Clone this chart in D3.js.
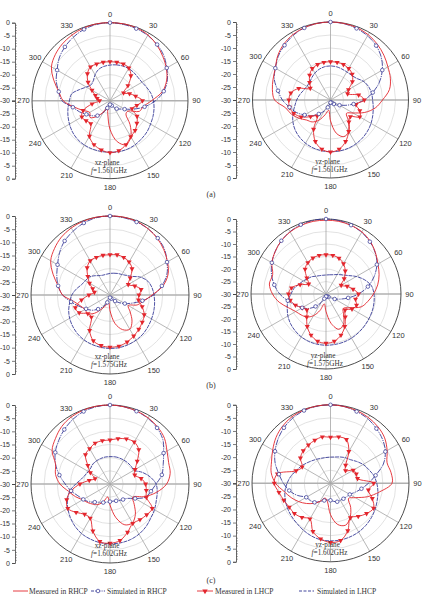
<!DOCTYPE html>
<html><head><meta charset="utf-8">
<script src="https://cdn.jsdelivr.net/npm/d3@7"></script>
<style>body{margin:0;background:#fff}svg{display:block}</style>
</head><body>
<svg id="c" width="423" height="604"></svg>
<script>
// angles in degrees (0 at top, clockwise), one value every 10 degrees
const angles = d3.range(0, 360, 10);
const radialTicks = [0, -5, -10, -15, -20, -25, -30];
const angleLabels = [0, 30, 60, 90, 120, 150, 180, 210, 240, 270, 300, 330];
const seriesNames = ["Measured in RHCP", "Simulated in RHCP", "Measured in LHCP", "Simulated in LHCP"];
const planes = ["xz-plane", "yz-plane", "xz-plane", "yz-plane", "xz-plane", "yz-plane"];
const freqs = ["1.561GHz", "1.561GHz", "1.575GHz", "1.575GHz", "1.602GHz", "1.602GHz"];
const rowLabels = ["(a)", "(b)", "(c)"];

// Panel (a) xz-plane 1.561 GHz
const a1MeasR = [0,0,-0.2,-0.8,-2,-3.5,-5,-6.8,-9.5,-14,-17,-18,-22,-22,-18,-14,-12,-14,-19,-25,-27,-25,-22,-20,-21,-19,-16,-12,-10,-7,-4,-2.5,-1.5,-0.8,-0.3,0];
const a1SimR  = [0,-0.2,-0.5,-1,-1.8,-3,-4.8,-6.5,-9,-12.5,-16.5,-20.5,-23.5,-25,-26,-27,-28,-28.5,-28.5,-28,-27,-24.5,-22.5,-21,-19.5,-17.5,-15.5,-11.5,-10,-8,-6.5,-4.5,-3,-1.8,-0.8,-0.2];
const a1MeasL = [-15,-15,-15,-15.5,-17.5,-21,-24,-22,-20,-17.5,-19.5,-21,-18,-16.5,-15,-14,-12,-10.5,-10,-10.8,-12,-14.2,-18.5,-18,-17.5,-19,-23,-26,-25,-24,-22,-19,-16.5,-15,-15,-15];
const a1SimL  = [-16.3,-16,-15.8,-15.7,-15.8,-16,-15.8,-15,-14,-13.3,-12.8,-12.4,-12,-11.4,-11,-10.5,-10.2,-10.1,-10.2,-10.2,-10.2,-10.3,-10.6,-11.2,-12,-12.8,-13.6,-14.4,-15,-17.5,-19.5,-20.5,-20,-18.5,-17.2,-16.6];
// Panel (a) yz-plane 1.561 GHz
const a2MeasR = [0,-0.1,-0.4,-1,-2,-3.2,-4.5,-5.5,-7,-10,-12.5,-16,-20,-22,-19,-16,-15,-17,-22,-26,-24,-21,-19,-18,-16,-14,-12.5,-8.5,-7.3,-6.5,-5.5,-3.5,-2,-1,-0.4,-0.1];
const a2SimR  = [0,-0.2,-0.7,-1.5,-2.7,-4.5,-7,-10,-13.5,-17,-21,-24,-26,-27,-28,-28.5,-29,-29,-29,-28.5,-27,-25,-23,-20.5,-18.5,-16,-14,-11.5,-9.5,-7,-5.5,-3.8,-2.5,-1.3,-0.5,-0.1];
const a2MeasL = [-15.3,-15.3,-15.5,-16,-17,-19,-22,-23,-19,-17,-20,-18,-17,-20,-19,-16,-13,-10.8,-10,-10.8,-13,-17,-22,-20,-17,-15,-14,-14,-14.5,-17,-21,-19.5,-17.5,-16,-15.5,-15.3];
const a2SimL  = [-16.9,-17,-17.3,-17.5,-17.5,-17,-15.5,-14.5,-14,-13.8,-13.3,-12.7,-12,-11.4,-10.9,-10.5,-10.2,-10.1,-10.1,-10.2,-10.4,-10.8,-11.4,-12.2,-13.3,-14.6,-16,-17,-18,-19,-19.5,-19.5,-18.8,-18,-17.4,-17];
// Panel (b) xz-plane 1.575 GHz
const b1MeasR = [0,0,-0.3,-1,-2,-3.3,-4.8,-6.5,-9.5,-14,-17,-19,-22,-20,-17,-15,-16,-19,-24,-27,-26,-24,-21,-19,-19,-18,-16,-12,-10,-7,-4,-2.5,-1.3,-0.6,-0.2,0];
const b1SimR  = [0,-0.2,-0.5,-1,-1.8,-3,-5,-7,-10,-13.5,-17.5,-21,-23.5,-25.5,-27,-28,-28.5,-29,-29,-28.5,-27,-25,-23,-21,-19.5,-17.5,-15,-12,-10,-8.5,-7,-5,-3.2,-2,-0.9,-0.2];
const b1MeasL = [-14.7,-14.5,-14.8,-15.5,-17,-20,-22,-20,-18,-19,-19,-17,-15,-14,-13,-12,-11,-10.3,-10.2,-10.5,-11.5,-14.5,-19,-19,-16.5,-16,-19,-22,-24,-23,-21,-19,-16.5,-15,-14.8,-14.7];
const b1SimL  = [-21.8,-21.6,-21.3,-21,-20.3,-19,-16.5,-14.7,-13.8,-13.3,-12.8,-12.3,-11.8,-11.2,-10.6,-10.2,-9.9,-9.7,-9.7,-9.8,-10,-10.3,-10.8,-11.5,-12.3,-13.3,-14.5,-15.5,-17,-18.5,-19.2,-19.5,-20.5,-21.5,-22,-22];
// Panel (b) yz-plane 1.575 GHz
const b2MeasR = [-0.5,-0.5,-0.8,-1.3,-2.5,-4.2,-6,-7.4,-9,-11,-13,-15,-19,-21,-19,-16,-15,-18,-23,-26,-23,-20,-18,-17,-16,-14,-11,-8.6,-7,-7.3,-5,-3.5,-2.2,-1.3,-0.8,-0.5];
const b2SimR  = [0,-0.2,-0.7,-1.5,-2.7,-4.3,-6.5,-9.5,-13,-17,-21,-24,-26,-27.5,-28.5,-29,-29,-29,-29,-29,-28,-26,-23.5,-21,-19,-17,-14.5,-11.5,-9,-6.8,-5,-3.5,-2.2,-1.2,-0.5,-0.1];
const b2MeasL = [-14.3,-14.3,-14.8,-16,-18,-20.5,-23,-21,-19,-17,-18,-17,-18,-20,-18,-15,-12.5,-10.8,-10.3,-10.8,-12.5,-15,-18,-20,-19,-17,-15.5,-15,-16,-19,-22,-20,-17,-15.5,-14.7,-14.3];
const b2SimL  = [-22.4,-22.2,-21.8,-21,-20,-18.5,-16,-13.5,-11.5,-10.8,-10.5,-10.3,-10.2,-10,-9.8,-9.6,-9.5,-9.5,-9.5,-9.6,-9.8,-10.2,-10.8,-11.5,-12.4,-13.5,-14.5,-16,-17,-18.5,-19.5,-20.5,-21,-21.8,-22.2,-22.4];
// Panel (c) xz-plane 1.602 GHz
const c1MeasR = [0,-0.2,-0.5,-1,-1.8,-3,-5,-6.3,-6.8,-8.5,-12,-16,-20,-18,-15,-13,-13.5,-17,-22,-25,-23,-21,-20,-19,-18,-16,-14,-11,-9,-8,-4.6,-3,-1.5,-0.6,-0.2,0];
const c1SimR  = [0,-0.2,-0.6,-1.2,-2.2,-3.8,-6.5,-8.5,-10,-12.5,-14.2,-15.5,-19,-21.5,-22.3,-22.8,-23.2,-23.4,-23.3,-23,-22.5,-22,-21,-19.5,-18.3,-17,-15,-13,-10.5,-8,-6,-4.5,-3,-1.7,-0.7,-0.2];
const c1MeasL = [-13.3,-12.5,-11.8,-11.6,-13,-16.5,-19,-20,-18,-16.5,-16,-15.3,-11.5,-11.8,-12.3,-12.7,-10.5,-8.2,-7.5,-7.8,-11,-15,-15,-13.2,-11.5,-12.5,-15,-18.6,-22,-24,-21.4,-19,-15.5,-14.5,-13.5,-13.3];
const c1SimL  = [-19.6,-19.5,-19.5,-19.5,-19.5,-19.5,-19.5,-17,-14.5,-12.5,-11.8,-11.3,-10.5,-9.8,-8.8,-8,-7.5,-7.3,-7.3,-7.4,-7.8,-8.3,-9.2,-10.3,-11.5,-12.8,-14.5,-17,-19,-20,-20.5,-20.5,-20,-19.8,-19.7,-19.6];
// Panel (c) yz-plane 1.602 GHz
const c2MeasR = [0,-0.2,-0.5,-1,-1.8,-3,-5,-7,-6.5,-6.5,-11,-15,-19,-21,-18,-15,-13,-14,-18,-23,-24,-22,-20,-18,-16,-14,-12,-9,-7,-6,-4.5,-2.8,-1.5,-0.6,-0.2,0];
const c2SimR  = [0,-0.2,-0.8,-1.5,-2.7,-4,-5.8,-8.5,-12.5,-15.5,-18,-20,-21.5,-22,-22.3,-22.5,-22.5,-23,-23.5,-23.5,-23,-22,-20.5,-19.8,-19.3,-16.5,-14,-12,-10,-7.5,-5.5,-3.8,-2.3,-1.2,-0.4,-0.1];
const c2MeasL = [-12.4,-12,-12.2,-16,-21,-22.5,-20,-19.5,-19.5,-13.5,-15.3,-13,-11,-12,-13.5,-14.8,-10.7,-7.8,-7.4,-8.4,-10.4,-14.3,-13,-12,-11.8,-11,-10,-8.5,-9.4,-16,-17.5,-15,-13.8,-13.1,-12.5,-12];
const c2SimL  = [-20,-19.8,-19.3,-18.7,-18.2,-17,-15.6,-14.5,-13.2,-12.3,-11.6,-11,-10.3,-9.6,-9,-8.5,-8.2,-8,-8,-8.1,-8.6,-9.3,-10,-10.5,-11,-11.6,-12.3,-13.4,-14.6,-16,-17,-18,-18.8,-19.4,-19.8,-20];

const panelData = [
  [a1MeasR, a1SimR, a1MeasL, a1SimL],
  [a2MeasR, a2SimR, a2MeasL, a2SimL],
  [b1MeasR, b1SimR, b1MeasL, b1SimL],
  [b2MeasR, b2SimR, b2MeasL, b2SimL],
  [c1MeasR, c1SimR, c1MeasL, c1SimL],
  [c2MeasR, c2SimR, c2MeasL, c2SimL]
];

// layout
const layout = [
  {cx:110,   cy:100.7, R:78,   ax:15},
  {cx:330.5, cy:100,   R:78,   ax:236},
  {cx:110,   cy:295,   R:79,   ax:15},
  {cx:326,   cy:294,   R:75,   ax:236},
  {cx:110,   cy:484,   R:79,   ax:15},
  {cx:330.5, cy:483.3, R:78.5, ax:236}
];
const RED = "#e3262d", BLUE = "#2e3192";
const sans = "'Liberation Sans', Arial, sans-serif";
const serif = "'Liberation Serif', 'Times New Roman', serif";

const svg = d3.select("#c");
const rad = d => d * Math.PI / 180;

layout.forEach((L, pi) => {
  const g = svg.append("g").attr("transform", `translate(${L.cx},${L.cy})`);
  const r = d3.scaleLinear().domain([-30, 0]).range([0, L.R]).clamp(true);

  // grid circles
  g.selectAll("circle.grid").data(radialTicks.filter(d => d > -30 && d < 0)).join("circle")
    .attr("r", d => r(d)).attr("fill", "none").attr("stroke", "#d6d6d6").attr("stroke-width", 0.7);
  // radial spokes
  g.selectAll("line.spoke").data(d3.range(0, 360, 30)).join("line")
    .attr("x1", 0).attr("y1", 0)
    .attr("x2", d => L.R * Math.sin(rad(d))).attr("y2", d => -L.R * Math.cos(rad(d)))
    .attr("stroke", d => (d === 90 || d === 270) ? "#b0b0b0" : "#a4a4a4")
    .attr("stroke-width", d => (d === 90 || d === 270) ? 1.6 : 0.8);
  // outer circle
  g.append("circle").attr("r", L.R).attr("fill", "none").attr("stroke", "#3a3a3a").attr("stroke-width", 0.9);

  // angle labels
  g.selectAll("text.ang").data(angleLabels).join("text")
    .attr("x", d => (L.R + 8.5) * Math.sin(rad(d)))
    .attr("y", d => -(L.R + 8.5) * Math.cos(rad(d)))
    .attr("text-anchor", "middle").attr("dominant-baseline", "central")
    .attr("font-family", sans).attr("font-size", 7.5).attr("fill", "#333")
    .text(d => d);

  const series = panelData[pi];
  const pts = vals => vals.map((v, i) => [rad(angles[i]), r(v)]);
  const line = d3.lineRadial().angle(d => d[0]).radius(d => d[1]).curve(d3.curveCatmullRomClosed.alpha(0.5));

  // simulated LHCP (dashed blue)
  g.append("path").attr("d", line(pts(series[3]))).attr("fill", "none")
    .attr("stroke", BLUE).attr("stroke-width", 0.85).attr("stroke-dasharray", "4,0.8");
  // simulated RHCP (dash-dot blue with circles)
  g.append("path").attr("d", line(pts(series[1]))).attr("fill", "none")
    .attr("stroke", BLUE).attr("stroke-width", 0.85).attr("stroke-dasharray", "6,1,1.2,1");
  // measured RHCP (solid red)
  g.append("path").attr("d", line(pts(series[0]))).attr("fill", "none")
    .attr("stroke", RED).attr("stroke-width", 0.9);
  // measured LHCP (solid red with triangles)
  g.append("path").attr("d", line(pts(series[2]))).attr("fill", "none")
    .attr("stroke", RED).attr("stroke-width", 0.9);

  const tri = d3.symbol().type(d3.symbolTriangle).size(11);
  g.selectAll("path.tri").data(pts(series[2])).join("path")
    .attr("d", tri)
    .attr("transform", d => `translate(${d[1] * Math.sin(d[0])},${-d[1] * Math.cos(d[0])}) rotate(180)`)
    .attr("fill", RED);
  g.selectAll("circle.mk").data(pts(series[1]).filter((d, i) => i % 2 === 0)).join("circle")
    .attr("cx", d => d[1] * Math.sin(d[0])).attr("cy", d => -d[1] * Math.cos(d[0]))
    .attr("r", 1.8).attr("fill", "#fff").attr("stroke", BLUE).attr("stroke-width", 0.7);

  // plane / frequency annotation
  const ann = g.append("text").attr("text-anchor", "middle").attr("font-family", serif)
    .attr("font-size", 7.2).attr("fill", "#333");
  ann.append("tspan").attr("x", -3).attr("y", 64).text(planes[pi]);
  const t2 = ann.append("tspan").attr("x", -1).attr("y", 72);
  t2.append("tspan").attr("font-style", "italic").text("f");
  t2.append("tspan").text("=" + freqs[pi]);

  // left radial axis (two halves)
  const up = d3.scaleLinear().domain([-30, 0]).range([L.cy, L.cy - L.R]);
  const dn = d3.scaleLinear().domain([-30, 0]).range([L.cy, L.cy + L.R]);
  [up, dn].forEach((sc, k) => {
    const ag = svg.append("g").attr("transform", `translate(${L.ax},0)`);
    ag.call(d3.axisLeft(sc).tickValues(k === 0 ? radialTicks : radialTicks.slice(0, -1))
      .tickSize(3).tickPadding(2).tickFormat(d => String(d)));
    ag.select(".domain").attr("stroke", "#444").attr("stroke-width", 0.8);
    ag.selectAll(".tick line").attr("stroke", "#444").attr("stroke-width", 0.7);
    ag.selectAll(".tick text").attr("font-family", sans).attr("font-size", 7).attr("fill", "#333");
    // minor ticks
    ag.selectAll("line.minor").data(d3.range(-29, 0, 1).filter(d => d % 5 !== 0)).join("line")
      .attr("x1", 0).attr("x2", 2).attr("y1", d => sc(d)).attr("y2", d => sc(d))
      .attr("stroke", "#555").attr("stroke-width", 0.5);
  });
});

// row labels
[194, 385, 580].forEach((y, i) => {
  svg.append("text").attr("x", 211).attr("y", y).attr("text-anchor", "middle")
    .attr("dominant-baseline", "central").attr("font-family", serif).attr("font-size", 8)
    .attr("fill", "#333").text(rowLabels[i]);
});

// legend
const ly = 591;
const lg = svg.append("g");
const items = [
  {x1: 13, x2: 28, tx: 29, color: RED, dash: null, marker: null},
  {x1: 91, x2: 105, tx: 107, color: BLUE, dash: "3,1.2,1,1.2", marker: "circle"},
  {x1: 197, x2: 213, tx: 215, color: RED, dash: null, marker: "tri"},
  {x1: 299, x2: 314, tx: 317, color: BLUE, dash: "3,1.5", marker: null}
];
items.forEach((it, i) => {
  lg.append("line").attr("x1", it.x1).attr("x2", it.x2).attr("y1", ly).attr("y2", ly)
    .attr("stroke", it.color).attr("stroke-width", 0.9).attr("stroke-dasharray", it.dash);
  const mx = (it.x1 + it.x2) / 2;
  if (it.marker === "circle") lg.append("circle").attr("cx", mx).attr("cy", ly).attr("r", 1.8)
    .attr("fill", "#fff").attr("stroke", BLUE).attr("stroke-width", 0.7);
  if (it.marker === "tri") lg.append("path").attr("d", d3.symbol().type(d3.symbolTriangle).size(13)())
    .attr("transform", `translate(${mx},${ly}) rotate(180)`).attr("fill", RED);
  lg.append("text").attr("x", it.tx).attr("y", ly).attr("dominant-baseline", "central")
    .attr("font-family", serif).attr("font-size", 7.5).attr("fill", "#333").text(seriesNames[i]);
});
</script>
</body></html>
